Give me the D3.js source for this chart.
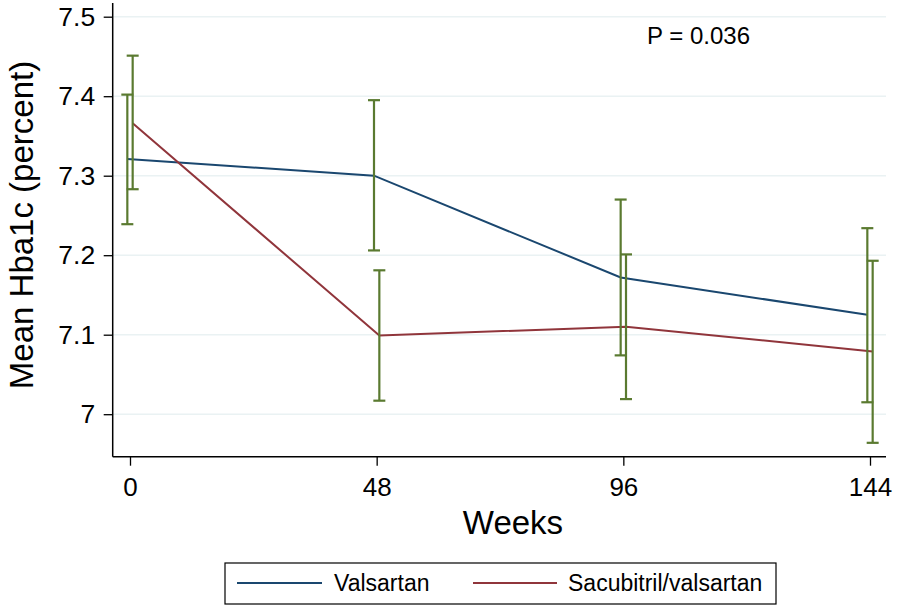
<!DOCTYPE html>
<html><head><meta charset="utf-8">
<script src="https://cdn.jsdelivr.net/npm/d3@7"></script>
<style>body{margin:0;background:#fff}svg{display:block;font-family:"Liberation Sans",Arial,sans-serif}</style>
</head><body>
<script>
const weeks = [0, 48, 96, 144];
const xTicks = [0, 48, 96, 144];
const yTicks = [7.0, 7.1, 7.2, 7.3, 7.4, 7.5];
const yTickLabels = ["7", "7.1", "7.2", "7.3", "7.4", "7.5"];
const valsartanMean = [7.321, 7.300, 7.172, 7.125];
const valsartanLo   = [7.239, 7.206, 7.074, 7.015];
const valsartanHi   = [7.402, 7.395, 7.270, 7.234];
const sacubitrilMean = [7.366, 7.099, 7.110, 7.079];
const sacubitrilLo   = [7.283, 7.017, 7.019, 6.964];
const sacubitrilHi   = [7.451, 7.181, 7.201, 7.193];
const seriesNames = ["Valsartan", "Sacubitril/valsartan"];
const pText = "P = 0.036";
const dodge = [-0.52, 0.52]; // weeks offset per group

const W = 898, H = 607;
const svg = d3.select("body").append("svg").attr("width", W).attr("height", H);
const x = d3.scaleLinear().domain([0, 144]).range([130, 870]);
const y = d3.scaleLinear().domain([7.0, 7.5]).range([414.2, 16.7]);
const plotL = 112.7, plotR = 886, plotT = 3, plotB = 456.7;
const FONT = "Liberation Sans, Arial, sans-serif";

// gridlines
svg.append("g").selectAll("line").data(yTicks).join("line")
  .attr("x1", plotL).attr("x2", plotR)
  .attr("y1", d => y(d)).attr("y2", d => y(d))
  .attr("stroke", "#eaf2f3").attr("stroke-width", 1.5);

// y axis
const yAxis = d3.axisLeft(y).tickValues(yTicks).tickFormat((d, i) => yTickLabels[i]).tickSize(9).tickPadding(8.5);
const gy = svg.append("g").attr("transform", `translate(${plotL},0)`).call(yAxis);
gy.select(".domain").remove();
gy.append("line").attr("x1", 0).attr("x2", 0).attr("y1", plotT).attr("y2", plotB).attr("stroke", "#000").attr("stroke-width", 1.5);
gy.selectAll(".tick line").attr("stroke", "#000").attr("stroke-width", 1.3);
gy.selectAll(".tick text").attr("font-size", 26.5).attr("fill", "#000").attr("font-family", FONT);

// x axis
const xAxis = d3.axisBottom(x).tickValues(xTicks).tickSize(9).tickPadding(12);
const gx = svg.append("g").attr("transform", `translate(0,${plotB})`).call(xAxis);
gx.select(".domain").remove();
gx.append("line").attr("x1", plotL).attr("x2", plotR).attr("y1", 0).attr("y2", 0).attr("stroke", "#000").attr("stroke-width", 1.5);
gx.selectAll(".tick line").attr("stroke", "#000").attr("stroke-width", 1.3);
gx.selectAll(".tick text").attr("font-size", 26).attr("fill", "#000").attr("font-family", FONT);

// axis titles
svg.append("text").attr("x", 513).attr("y", 534).attr("text-anchor", "middle")
  .attr("font-size", 33).text("Weeks");
svg.append("text").attr("transform", "translate(33,225) rotate(-90)").attr("text-anchor", "middle")
  .attr("font-size", 33).text("Mean Hba1c (percent)");

const colors = ["#1a476f", "#90353b"];
const errColor = "#5a7a30";
const groups = [
  {mean: valsartanMean, lo: valsartanLo, hi: valsartanHi},
  {mean: sacubitrilMean, lo: sacubitrilLo, hi: sacubitrilHi}
];

const line = d3.line().x(d => x(d.w)).y(d => y(d.v));
groups.forEach((g, gi) => {
  const pts = weeks.map((w, i) => ({w: w + dodge[gi], v: g.mean[i]}));
  svg.append("path").datum(pts).attr("d", line).attr("fill", "none")
    .attr("stroke", colors[gi]).attr("stroke-width", 2);
});
groups.forEach((g, gi) => {
  const eb = svg.append("g").attr("stroke", errColor).attr("stroke-width", 2.2);
  weeks.forEach((w, i) => {
    const cx = x(w + dodge[gi]);
    eb.append("line").attr("x1", cx).attr("x2", cx).attr("y1", y(g.lo[i])).attr("y2", y(g.hi[i]));
    eb.append("line").attr("x1", cx - 6).attr("x2", cx + 6).attr("y1", y(g.lo[i])).attr("y2", y(g.lo[i]));
    eb.append("line").attr("x1", cx - 6).attr("x2", cx + 6).attr("y1", y(g.hi[i])).attr("y2", y(g.hi[i]));
  });
});

// P text
svg.append("text").attr("x", 647).attr("y", 44).attr("font-size", 24).text(pText);

// legend
svg.append("rect").attr("x", 225).attr("y", 563).attr("width", 551).attr("height", 41)
  .attr("fill", "#fff").attr("stroke", "#000").attr("stroke-width", 1.2);
const legX = [[237, 322, 334], [473, 557, 568]];
seriesNames.forEach((n, i) => {
  svg.append("line").attr("x1", legX[i][0]).attr("x2", legX[i][1]).attr("y1", 583).attr("y2", 583)
    .attr("stroke", colors[i]).attr("stroke-width", 2);
  svg.append("text").attr("x", legX[i][2]).attr("y", 591).attr("font-size", 23).text(n);
});
</script>
</body></html>
